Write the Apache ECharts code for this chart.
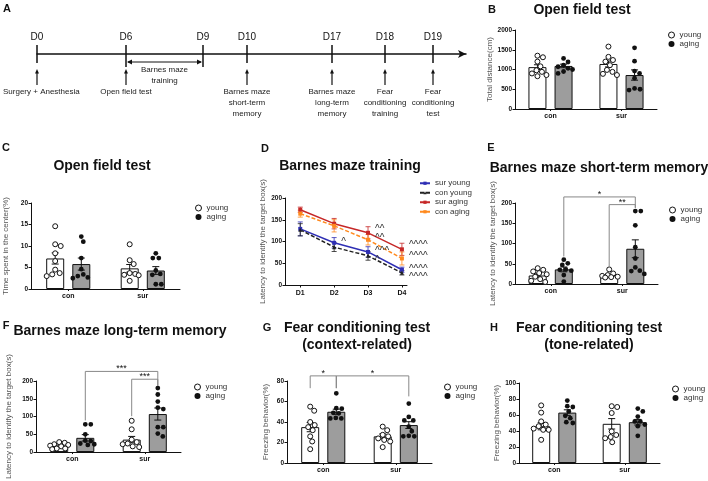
<!DOCTYPE html>
<html>
<head>
<meta charset="utf-8">
<title>Behavioral tests</title>
<script src="https://cdn.jsdelivr.net/npm/echarts@6.0.0/dist/echarts.min.js"></script>
<style>
html,body{margin:0;padding:0;background:#fff;}
#chart{width:708px;height:481px;}
</style>
</head>
<body>
<div id="chart"></div>
<script>
// ================= DATA =================
const groups = ['con', 'sur'];

// A: timeline (schematic order along the axis)
const timelineDays = ['D0', 'D6', 'D9', 'D10', 'D17', 'D18', 'D19'];
const timelineOrder = [0, 89, 166, 210, 295, 348, 396];
const timelineNotes = ['Surgery + Anesthesia', 'Open field test', '', 'Barnes maze\nshort-term\nmemory',
  'Barnes maze\nlong-term\nmemory', 'Fear\nconditioning\ntraining', 'Fear\nconditioning\ntest'];
const trainingFrom = 'D6';
const trainingTo = 'D9';
const trainingNote = 'Barnes maze\ntraining';

// B: Open field test, total distance
const bMeanYoung = [1060, 1140];
const bMeanAging = [1090, 860];
const bSemYoung = [60, 75];
const bSemAging = [45, 130];
const bYoungCon = [1350, 1310, 1200, 1080, 980, 940, 900, 860, 830];
const bAgingCon = [1280, 1190, 1110, 1070, 1030, 1000, 950, 900];
const bYoungSur = [1580, 1320, 1240, 1200, 1110, 990, 940, 890, 860];
const bAgingSur = [1550, 1210, 960, 900, 780, 520, 500, 480];

// C: Open field test, time in center
const cMeanYoung = [7.1, 4.8];
const cMeanAging = [5.8, 4.3];
const cSemYoung = [1.3, 0.9];
const cSemAging = [1.4, 0.9];
const cYoungCon = [14.6, 10.4, 10.0, 8.3, 6.5, 4.5, 3.7, 3.4, 3.0];
const cAgingCon = [12.2, 11.0, 7.2, 4.6, 3.4, 3.0, 2.7, 2.5];
const cYoungSur = [10.4, 6.7, 5.8, 3.7, 3.5, 3.3, 3.2, 1.9];
const cAgingSur = [8.3, 7.2, 7.2, 4.3, 3.5, 3.3, 1.1, 1.1];

// D: Barnes maze training
const dDays = ['D1', 'D2', 'D3', 'D4'];
const dSurYoung = [129, 97, 76, 35];
const dSurYoungErr = [16, 12, 12, 6];
const dSurYoungAnn = ['', '^', '^^^', '^^^^'];
const dConYoung = [127, 87, 67, 28];
const dConYoungErr = [14, 10, 10, 5];
const dConYoungAnn = ['', '', '^', '^^^^'];
const dSurAging = [173, 141, 120, 82];
const dSurAgingErr = [6, 12, 14, 14];
const dSurAgingAnn = ['', '', '^^', '^^^^'];
const dConAging = [164, 136, 104, 61];
const dConAgingErr = [8, 14, 12, 15];
const dConAgingAnn = ['', '', '^^', '^^^^'];

// E: Barnes maze short-term memory
const eMeanYoung = [21, 21];
const eMeanAging = [36, 87];
const eSemYoung = [4, 2.5];
const eSemAging = [6, 22];
const eYoungCon = [39, 35, 31, 27, 24, 18, 12, 8, 5];
const eAgingCon = [60, 51, 47, 36, 35, 33, 22, 6];
const eYoungSur = [36, 26, 22, 20, 18, 17, 16];
const eAgingSur = [180, 180, 145, 91, 63, 41, 33, 32, 25];
// [cat1, grp1, leg1, cat2, grp2, leg2, top]
const eBrackets = [[0, 1, 68, 1, 1, 188, 215], [1, 0, 43, 1, 1, 188, 196]];
const eBracketLabels = ['*', '**'];

// F: Barnes maze long-term memory
const fMeanYoung = [17, 35];
const fMeanAging = [40, 107];
const fSemYoung = [2.5, 9];
const fSemAging = [9, 17];
const fYoungCon = [28, 26, 22, 20, 18, 16, 10, 10, 8];
const fAgingCon = [78, 78, 50, 32, 31, 24, 22, 20];
const fYoungSur = [88, 64, 35, 28, 24, 22, 16, 14];
const fAgingSur = [180, 162, 142, 125, 121, 70, 70, 52, 44];
const fBrackets = [[0, 1, 89, 1, 1, 186, 227], [1, 0, 101, 1, 1, 186, 205]];
const fBracketLabels = ['***', '***'];

// G: Fear conditioning (context)
const gMeanYoung = [35, 26];
const gMeanAging = [50, 37];
const gSemYoung = [4.5, 2.3];
const gSemAging = [2.5, 3.3];
const gYoungCon = [55, 51, 40, 37, 35, 32, 26, 21, 13.5];
const gAgingCon = [68, 53.5, 53, 49, 48.5, 44, 43.5, 43.5];
const gYoungSur = [35.5, 32, 27.5, 26, 24, 22.5, 21, 15.5];
const gAgingSur = [58, 45, 41.5, 41.5, 35.5, 31, 26.5, 26, 26];
const gBrackets = [[0, 0, 73, 0, 1, 73, 85], [0, 1, 73, 1, 1, 65, 85]];
const gBracketLabels = ['*', '*'];

// H: Fear conditioning (tone)
const hMeanYoung = [46, 49];
const hMeanAging = [63, 51];
const hSemYoung = [4.5, 6.5];
const hSemAging = [3.5, 3.5];
const hYoungCon = [72, 63, 52, 48, 46, 43, 41.5, 41.5, 29];
const hAgingCon = [78, 71, 70, 64.5, 59, 56, 51, 50];
const hYoungSur = [71, 70, 62.5, 39.5, 35, 32.5, 31, 26];
const hAgingSur = [68, 64.5, 58, 52, 52, 48, 46, 34];

// ================= BUILD =================
const FONT = "'Liberation Sans', Arial, sans-serif";
const INK = '#111';
const BAR_W = 18;
const BAR_GAP = 0.45;
const GROUP_OFF = (BAR_W + BAR_W * BAR_GAP) / 2;

const ctx = document.createElement('canvas').getContext('2d');
function measure(t, size) { ctx.font = size + 'px ' + FONT; return ctx.measureText(t).width; }

const option = {
  animation: false,
  grid: [], xAxis: [], yAxis: [], series: [], title: [], legend: []
};

function addText(text, cx, cy, size, extra) {
  option.title.push(Object.assign({
    text: text, left: cx, top: cy, textAlign: 'center', textVerticalAlign: 'middle', padding: 0,
    textStyle: { fontSize: size, fontWeight: 'bold', color: INK, fontFamily: FONT, lineHeight: 17 }
  }, extra || {}));
}

// ---------- A: timeline ----------
(function () {
  option.grid.push({ left: 37, top: 44, width: 429, height: 10 });
  option.xAxis.push({
    type: 'value', gridIndex: 0, min: 0, max: 429,
    axisLine: { show: true, symbol: ['none', 'arrow'], symbolSize: [6, 8], lineStyle: { color: INK, width: 1.5 } },
    axisTick: { show: false }, axisLabel: { show: false }, splitLine: { show: false }
  });
  option.yAxis.push({ type: 'value', gridIndex: 0, min: 0, max: 1, show: false });
  const spanIdx = [timelineDays.indexOf(trainingFrom), timelineDays.indexOf(trainingTo)];
  option.series.push({
    type: 'custom', xAxisIndex: 0, yAxisIndex: 0, name: 'timeline', silent: true,
    data: timelineOrder.map((x, i) => [x, i]),
    renderItem: function (params, api) {
      const i = api.value(1);
      const p = api.coord([api.value(0), 0]);
      const x = p[0], y0 = p[1];
      const inSpan = spanIdx.indexOf(i) >= 0;
      const ch = [];
      ch.push({ type: 'line', shape: { x1: x, y1: y0 - 9, x2: x, y2: y0 + (inSpan ? 13 : 9) }, style: { stroke: INK, lineWidth: 1.5 } });
      ch.push({ type: 'text', style: { text: timelineDays[i], x: x, y: y0 - 17, align: 'center', verticalAlign: 'middle', fontSize: 10, fontFamily: FONT, fill: INK } });
      const note = timelineNotes[i];
      if (note) {
        ch.push({ type: 'line', shape: { x1: x, y1: y0 + 31, x2: x, y2: y0 + 18 }, style: { stroke: INK, lineWidth: 1.2 } });
        ch.push({ type: 'polygon', shape: { points: [[x, y0 + 15], [x - 2, y0 + 19.5], [x + 2, y0 + 19.5]] }, style: { fill: INK } });
        const w = Math.max.apply(null, note.split('\n').map(l => measure(l, 8)));
        const cx = Math.max(x, w / 2 + 3);
        ch.push({ type: 'text', style: { text: note, x: cx, y: y0 + 32, align: 'center', verticalAlign: 'top', fontSize: 8, lineHeight: 11, fontFamily: FONT, fill: '#222' } });
      }
      return { type: 'group', children: ch };
    }
  });
  option.series.push({
    type: 'custom', xAxisIndex: 0, yAxisIndex: 0, name: 'training', silent: true,
    data: [[timelineOrder[spanIdx[0]], timelineOrder[spanIdx[1]]]],
    renderItem: function (params, api) {
      const a = api.coord([api.value(0), 0]), b = api.coord([api.value(1), 0]);
      const y = a[1] + 8;
      return {
        type: 'group', children: [
          { type: 'line', shape: { x1: a[0] + 2, y1: y, x2: b[0] - 2, y2: y }, style: { stroke: INK, lineWidth: 1 } },
          { type: 'polygon', shape: { points: [[a[0] + 1, y], [a[0] + 6, y - 2.5], [a[0] + 6, y + 2.5]] }, style: { fill: INK } },
          { type: 'polygon', shape: { points: [[b[0] - 1, y], [b[0] - 6, y - 2.5], [b[0] - 6, y + 2.5]] }, style: { fill: INK } },
          { type: 'text', style: { text: trainingNote, x: (a[0] + b[0]) / 2, y: y + 2, align: 'center', verticalAlign: 'top', fontSize: 8, lineHeight: 11, fontFamily: FONT, fill: '#222' } }
        ]
      };
    }
  });
  addText('A', 7, 9, 11);
})();

// ---------- swarm placement ----------
function swarm(data, api, dotD) {
  const out = new Array(data.length);
  [0, 1].forEach(cat => {
    const idx = [];
    data.forEach((d, i) => { if (d[0] === cat) idx.push(i); });
    idx.sort((a, b) => data[b][1] - data[a][1]);
    const placed = [];
    idx.forEach(i => {
      const p = api.coord([cat, data[i][1]]);
      let chosen = null, bestOff = 0, bestD = -1;
      for (let k = 0; k <= 36; k++) {
        const m = Math.ceil(k / 2) * (k % 2 ? 1 : -1);
        const off = m * 0.5;
        let dmin = Infinity;
        placed.forEach(q => { dmin = Math.min(dmin, Math.hypot(q[0] - off, q[1] - p[1])); });
        if (dmin >= dotD) { chosen = off; break; }
        if (dmin > bestD) { bestD = dmin; bestOff = off; }
      }
      if (chosen === null) chosen = bestOff;
      placed.push([chosen, p[1]]);
      out[i] = [p[0] + chosen, p[1]];
    });
  });
  return out;
}

const yLabelFmt = v => String(v);

// ---------- bar panels ----------
function barPanel(cfg) {
  const gi = option.grid.length;
  const g = cfg.grid;
  option.grid.push({ left: g[0], top: g[1], width: g[2], height: g[3] });
  option.xAxis.push({
    type: 'category', gridIndex: gi, data: groups,
    axisLine: { lineStyle: { color: INK, width: 1 } },
    axisTick: { show: true, alignWithLabel: true, length: 2, lineStyle: { color: INK } },
    axisLabel: { fontSize: 7, fontWeight: 'bold', color: INK, margin: 4, fontFamily: FONT },
    splitLine: { show: false }
  });
  option.yAxis.push({
    type: 'value', gridIndex: gi, min: 0, max: cfg.max, interval: cfg.interval,
    name: cfg.yName, nameLocation: 'middle', nameGap: cfg.nameGap,
    nameTextStyle: { fontSize: 8, color: '#555', fontFamily: FONT },
    axisLine: { show: true, lineStyle: { color: INK, width: 1 } },
    axisTick: { show: true, length: 2.5, lineStyle: { color: INK } },
    axisLabel: { fontSize: 6.5, fontWeight: 'bold', color: INK, margin: 3, fontFamily: FONT, formatter: yLabelFmt },
    splitLine: { show: false }
  });
  const ax = { xAxisIndex: gi, yAxisIndex: gi };
  option.series.push(Object.assign({
    type: 'bar', name: 'young mean', data: cfg.meanYoung, barWidth: BAR_W, barGap: (BAR_GAP * 100) + '%',
    itemStyle: { color: '#fff', borderColor: INK, borderWidth: 1 }, z: 2, silent: true
  }, ax));
  option.series.push(Object.assign({
    type: 'bar', name: 'aging mean', data: cfg.meanAging, barWidth: BAR_W, barGap: (BAR_GAP * 100) + '%',
    itemStyle: { color: '#9d9d9d', borderColor: INK, borderWidth: 1 }, z: 2, silent: true
  }, ax));
  // error bars
  const errData = [];
  [0, 1].forEach(c => {
    errData.push([c, 0, cfg.meanYoung[c], cfg.semYoung[c]]);
    errData.push([c, 1, cfg.meanAging[c], cfg.semAging[c]]);
  });
  option.series.push(Object.assign({
    type: 'custom', name: 'sem', data: errData, z: 4, silent: true,
    renderItem: function (params, api) {
      const c = api.value(0), grp = api.value(1), m = api.value(2), s = api.value(3);
      const top = api.coord([c, m + s]), bot = api.coord([c, m - s]);
      const x = top[0] + (grp ? GROUP_OFF : -GROUP_OFF);
      const st = { stroke: INK, lineWidth: 1 };
      return {
        type: 'group', children: [
          { type: 'line', shape: { x1: x, y1: top[1], x2: x, y2: bot[1] }, style: st },
          { type: 'line', shape: { x1: x - 3.5, y1: top[1], x2: x + 3.5, y2: top[1] }, style: st },
          { type: 'line', shape: { x1: x - 3.5, y1: bot[1], x2: x + 3.5, y2: bot[1] }, style: st }
        ]
      };
    }
  }, ax));
  // individual dots
  function dots(name, offset, conVals, surVals, filled) {
    const data = conVals.map(v => [0, v]).concat(surVals.map(v => [1, v]));
    let cache = null;
    return Object.assign({
      type: 'custom', name: name, data: data, z: 6, silent: true,
      itemStyle: filled ? { color: INK } : { color: '#fff', borderColor: INK, borderWidth: 1 },
      renderItem: function (params, api) {
        if (!cache || params.dataIndex === 0) cache = swarm(data, api, 5.4);
        const p = cache[params.dataIndex];
        return {
          type: 'circle', shape: { cx: p[0] + offset, cy: p[1], r: filled ? 2.4 : 2.5 },
          style: filled ? { fill: INK } : { fill: '#fff', stroke: INK, lineWidth: 1 }
        };
      }
    }, ax);
  }
  option.series.push(dots('young', -GROUP_OFF, cfg.youngCon, cfg.youngSur, false));
  option.series.push(dots('aging', GROUP_OFF, cfg.agingCon, cfg.agingSur, true));
  // significance brackets
  if (cfg.brackets) {
    option.series.push(Object.assign({
      type: 'custom', name: 'significance', data: cfg.brackets.map((b, i) => b.concat([i])), z: 7, silent: true, clip: false,
      renderItem: function (params, api) {
        const b = cfg.brackets[params.dataIndex];
        const p1 = api.coord([b[0], b[2]]), p2 = api.coord([b[3], b[5]]), pt = api.coord([b[0], b[6]]);
        const x1 = p1[0] + (b[1] ? GROUP_OFF : -GROUP_OFF);
        const x2 = p2[0] + (b[4] ? GROUP_OFF : -GROUP_OFF);
        const yt = pt[1];
        return {
          type: 'group', children: [
            { type: 'polyline', shape: { points: [[x1, p1[1]], [x1, yt], [x2, yt], [x2, p2[1]]] }, style: { stroke: '#888', lineWidth: 1, fill: null } },
            { type: 'text', style: { text: cfg.bracketLabels[params.dataIndex], x: (x1 + x2) / 2, y: yt + 2, align: 'center', verticalAlign: 'bottom', fontSize: 9, fontFamily: FONT, fill: INK } }
          ]
        };
      }
    }, ax));
  }
  // legend
  option.legend.push({
    left: cfg.legend[0], top: cfg.legend[1], orient: 'vertical', itemWidth: 6, itemHeight: 6, itemGap: 0, padding: 0,
    selectedMode: false, textStyle: { fontSize: 8, color: '#333', lineHeight: 9, fontFamily: FONT },
    data: [
      { name: 'young', icon: 'circle', itemStyle: { color: '#fff', borderColor: INK, borderWidth: 1 } },
      { name: 'aging', icon: 'circle', itemStyle: { color: INK, borderWidth: 0 } }
    ]
  });
  addText(cfg.title, cfg.titlePos[0], cfg.titlePos[1], 14);
  addText(cfg.letter, cfg.letterPos[0], cfg.letterPos[1], 11);
}

barPanel({
  grid: [515, 30, 142, 79], max: 2000, interval: 500, yName: 'Total distance(cm)', nameGap: 17,
  meanYoung: bMeanYoung, meanAging: bMeanAging, semYoung: bSemYoung, semAging: bSemAging,
  youngCon: bYoungCon, youngSur: bYoungSur, agingCon: bAgingCon, agingSur: bAgingSur,
  legend: [668, 30.5], title: 'Open field test', titlePos: [582, 10], letter: 'B', letterPos: [492, 10]
});
barPanel({
  grid: [31, 203, 149, 86], max: 20, interval: 5, yName: 'Time spent in the center(%)', nameGap: 21,
  meanYoung: cMeanYoung, meanAging: cMeanAging, semYoung: cSemYoung, semAging: cSemAging,
  youngCon: cYoungCon, youngSur: cYoungSur, agingCon: cAgingCon, agingSur: cAgingSur,
  legend: [195, 203.5], title: 'Open field test', titlePos: [102, 166], letter: 'C', letterPos: [6, 148]
});

// ---------- D: line chart ----------
(function () {
  const gi = option.grid.length;
  option.grid.push({ left: 285, top: 198, width: 122, height: 87 });
  const xs = dDays.map((d, i) => i + 1);
  option.xAxis.push({
    type: 'value', gridIndex: gi, min: 0.55, max: 4.15,
    axisLine: { show: true, lineStyle: { color: INK, width: 1 } },
    axisTick: { show: true, length: 2.5, customValues: xs, lineStyle: { color: INK } },
    axisLabel: { customValues: xs, formatter: v => dDays[Math.round(v) - 1], fontSize: 7, fontWeight: 'bold', color: INK, margin: 5, fontFamily: FONT },
    splitLine: { show: false }
  });
  option.yAxis.push({
    type: 'value', gridIndex: gi, min: 0, max: 200, interval: 50,
    name: 'Latency to identify the target box(s)', nameLocation: 'middle', nameGap: 17,
    nameTextStyle: { fontSize: 8, color: '#555', fontFamily: FONT },
    axisLine: { show: true, lineStyle: { color: INK, width: 1 } },
    axisTick: { show: true, length: 2.5, lineStyle: { color: INK } },
    axisLabel: { fontSize: 6.5, fontWeight: 'bold', color: INK, margin: 3, fontFamily: FONT, formatter: yLabelFmt },
    splitLine: { show: false }
  });
  const lines = [
    { name: 'sur young', v: dSurYoung, e: dSurYoungErr, ann: dSurYoungAnn, color: '#2f2fb4', type: 'solid', symbol: 'rect', lo: [0, -1] },
    { name: 'con young', v: dConYoung, e: dConYoungErr, ann: dConYoungAnn, color: '#222', type: [4, 2], symbol: 'triangle', lo: [0, 4] },
    { name: 'sur aging', v: dSurAging, e: dSurAgingErr, ann: dSurAgingAnn, color: '#c62828', type: 'solid', symbol: 'rect', lo: [0, -4] },
    { name: 'con aging', v: dConAging, e: dConAgingErr, ann: dConAgingAnn, color: '#ff8a1f', type: [4, 2], symbol: 'rect', lo: [0, -2] }
  ];
  lines.forEach(s => {
    option.series.push({
      type: 'custom', name: s.name + ' err', xAxisIndex: gi, yAxisIndex: gi, z: 2, silent: true,
      data: xs.map((x, i) => [x, s.v[i], s.e[i]]),
      renderItem: function (params, api) {
        const t = api.coord([api.value(0), api.value(1) + api.value(2)]);
        const b = api.coord([api.value(0), api.value(1) - api.value(2)]);
        const st = { stroke: s.color, lineWidth: 1, opacity: 0.8 };
        return {
          type: 'group', children: [
            { type: 'line', shape: { x1: t[0], y1: t[1], x2: b[0], y2: b[1] }, style: st },
            { type: 'line', shape: { x1: t[0] - 2.5, y1: t[1], x2: t[0] + 2.5, y2: t[1] }, style: st },
            { type: 'line', shape: { x1: b[0] - 2.5, y1: b[1], x2: b[0] + 2.5, y2: b[1] }, style: st }
          ]
        };
      }
    });
    option.series.push({
      type: 'line', name: s.name, xAxisIndex: gi, yAxisIndex: gi, z: 3, silent: true,
      data: xs.map((x, i) => [x, s.v[i]]),
      symbol: s.symbol, symbolSize: 4, showAllSymbol: true,
      lineStyle: { color: s.color, width: 1.5, type: s.type },
      itemStyle: { color: s.color },
      label: {
        show: true, position: 'right', distance: 5, offset: s.lo, fontSize: 10, color: '#333', fontFamily: FONT,
        formatter: p => s.ann[p.dataIndex]
      }
    });
  });
  option.legend.push({
    left: 419, top: 178.5, orient: 'vertical', itemWidth: 10, itemHeight: 4, itemGap: 0, padding: 0,
    selectedMode: false, textStyle: { fontSize: 8, color: '#333', lineHeight: 9.5, fontFamily: FONT },
    data: lines.map(s => s.name)
  });
  addText('Barnes maze training', 350, 166, 14);
  addText('D', 265, 149, 11);
})();

barPanel({
  grid: [515, 203, 143, 81], max: 200, interval: 50, yName: 'Latency to identify the target box(s)', nameGap: 17,
  meanYoung: eMeanYoung, meanAging: eMeanAging, semYoung: eSemYoung, semAging: eSemAging,
  youngCon: eYoungCon, youngSur: eYoungSur, agingCon: eAgingCon, agingSur: eAgingSur,
  brackets: eBrackets, bracketLabels: eBracketLabels,
  legend: [669, 205.5], title: 'Barnes maze short-term memory', titlePos: [599, 168], letter: 'E', letterPos: [491, 148]
});
barPanel({
  grid: [36, 381, 145, 82], max: 200, interval: 50, yName: 'Latency to identify the target box(s)', nameGap: 23,
  meanYoung: fMeanYoung, meanAging: fMeanAging, semYoung: fSemYoung, semAging: fSemAging,
  youngCon: fYoungCon, youngSur: fYoungSur, agingCon: fAgingCon, agingSur: fAgingSur,
  brackets: fBrackets, bracketLabels: fBracketLabels,
  legend: [194, 382.5], title: 'Barnes maze long-term memory', titlePos: [120, 331], letter: 'F', letterPos: [6, 326]
});
barPanel({
  grid: [287, 381, 145, 82], max: 80, interval: 20, yName: 'Freezing behavior(%)', nameGap: 17,
  meanYoung: gMeanYoung, meanAging: gMeanAging, semYoung: gSemYoung, semAging: gSemAging,
  youngCon: gYoungCon, youngSur: gYoungSur, agingCon: gAgingCon, agingSur: gAgingSur,
  brackets: gBrackets, bracketLabels: gBracketLabels,
  legend: [444, 382.5], title: 'Fear conditioning test\n(context-related)', titlePos: [357, 337], letter: 'G', letterPos: [267, 328]
});
barPanel({
  grid: [519, 383, 141, 80], max: 100, interval: 20, yName: 'Freezing behavior(%)', nameGap: 18,
  meanYoung: hMeanYoung, meanAging: hMeanAging, semYoung: hSemYoung, semAging: hSemAging,
  youngCon: hYoungCon, youngSur: hYoungSur, agingCon: hAgingCon, agingSur: hAgingSur,
  legend: [672, 384.5], title: 'Fear conditioning test\n(tone-related)', titlePos: [589, 337], letter: 'H', letterPos: [494, 328]
});

const chart = echarts.init(document.getElementById('chart'), null, { renderer: 'canvas' });
chart.setOption(option);
</script>
</body>
</html>
